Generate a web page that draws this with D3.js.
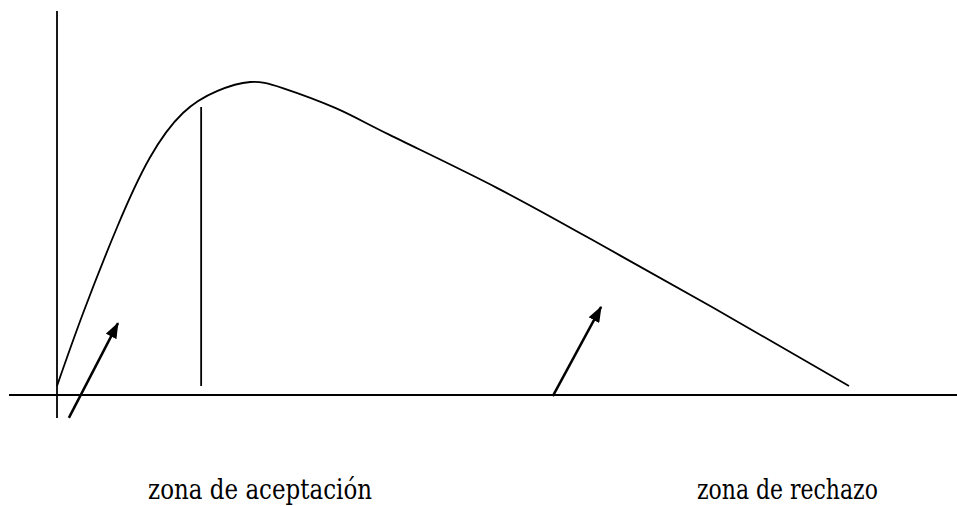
<!DOCTYPE html>
<html>
<head>
<meta charset="utf-8">
<script src="https://cdn.jsdelivr.net/npm/d3@7"></script>
<style>
  html, body { margin: 0; padding: 0; background: #fff; }
  svg { display: block; }
</style>
</head>
<body>
<div id="wrapper"></div>
<script>
// curve (x: 0..100 along the base, y: 0..100 height)
const curveX = [0, 3.3, 7.6, 11.7, 15.9, 20.2, 24.4, 28.5, 35.2, 42.0, 55.6, 69.2, 82.7, 100];
const curveY = [0, 24.0, 52.3, 75.0, 89.8, 97.0, 100, 98.0, 91.4, 82.6, 65.1, 45.7, 26.0, 0];

// critical value line
const critX = 18.2;
const critTop = 91.8;

// arrows [x1, y1, x2, y2] in data units
const arrows = [
  [1.5, -10.5, 7.7, 20.7],
  [62.6, -3.3, 68.7, 26.0]
];

const labels = ["zona de aceptación", "zona de rechazo"];
const labelX = [11.5, 80.8];
const labelW = [224, 181];

const axisBase = -2.96;

const dimensions = {
  width: 957,
  height: 506,
};

const xScale = d3.scaleLinear().domain([0, 100]).range([57, 849]);
const yScale = d3.scaleLinear().domain([0, 100]).range([386, 82]);

const svg = d3.select("#wrapper").append("svg")
  .attr("width", dimensions.width)
  .attr("height", dimensions.height);

svg.append("defs").append("marker")
  .attr("id", "head")
  .attr("markerUnits", "userSpaceOnUse")
  .attr("viewBox", "0 0 16 12")
  .attr("refX", 15)
  .attr("refY", 6)
  .attr("markerWidth", 16)
  .attr("markerHeight", 12)
  .attr("orient", "auto")
  .append("path")
  .attr("d", "M0,0 L16,6 L0,12 Z")
  .attr("fill", "#000");

// axes
svg.append("line")
  .attr("x1", 9).attr("x2", 957)
  .attr("y1", yScale(axisBase)).attr("y2", yScale(axisBase))
  .attr("stroke", "#000").attr("stroke-width", 2);

svg.append("line")
  .attr("x1", xScale(0)).attr("x2", xScale(0))
  .attr("y1", 11).attr("y2", 418)
  .attr("stroke", "#000").attr("stroke-width", 1.8);

// curve
const lineGenerator = d3.line()
  .x(d => xScale(d[0]))
  .y(d => yScale(d[1]))
  .curve(d3.curveNatural);

svg.append("path")
  .datum(d3.zip(curveX, curveY))
  .attr("d", lineGenerator)
  .attr("fill", "none")
  .attr("stroke", "#000")
  .attr("stroke-width", 1.8);

// critical value
svg.append("line")
  .attr("x1", xScale(critX)).attr("x2", xScale(critX))
  .attr("y1", yScale(critTop)).attr("y2", yScale(0))
  .attr("stroke", "#000").attr("stroke-width", 1.8);

// arrows
svg.selectAll(".arrow")
  .data(arrows)
  .join("line")
  .attr("class", "arrow")
  .attr("x1", d => xScale(d[0])).attr("y1", d => yScale(d[1]))
  .attr("x2", d => xScale(d[2])).attr("y2", d => yScale(d[3]))
  .attr("stroke", "#000").attr("stroke-width", 2.5)
  .attr("marker-end", "url(#head)");

// labels
svg.selectAll(".label")
  .data(labels)
  .join("text")
  .attr("class", "label")
  .attr("x", (d, i) => xScale(labelX[i]))
  .attr("y", 499)
  .attr("textLength", (d, i) => labelW[i])
  .attr("lengthAdjust", "spacingAndGlyphs")
  .style("font-family", "\"DejaVu Serif\", serif")
  .style("font-size", "27px")
  .attr("fill", "#000")
  .text(d => d);
</script>
</body>
</html>
